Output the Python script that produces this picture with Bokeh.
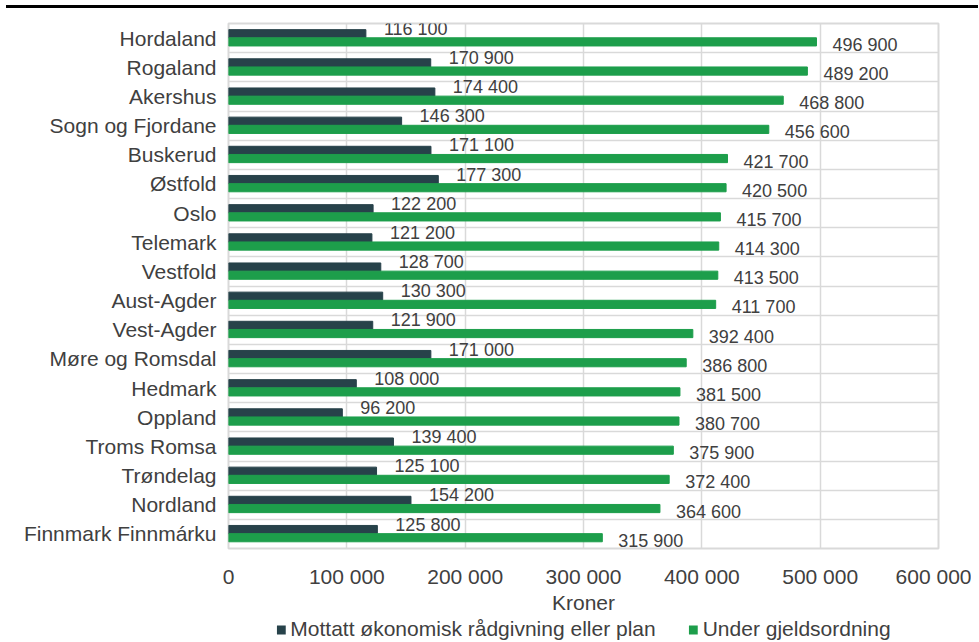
from bokeh.plotting import figure
from bokeh.models import (ColumnDataSource, FixedTicker, LabelSet, Legend, LegendItem,
                          Div, Range1d)
from bokeh.layouts import column
from bokeh.core.properties import value
from bokeh.embed import file_html
from bokeh.resources import INLINE

# ---------------- data ----------------
categories = ["Hordaland", "Rogaland", "Akershus", "Sogn og Fjordane", "Buskerud",
              "Østfold", "Oslo", "Telemark", "Vestfold", "Aust-Agder", "Vest-Agder",
              "Møre og Romsdal", "Hedmark", "Oppland", "Troms Romsa", "Trøndelag",
              "Nordland", "Finnmark Finnmárku"]
mottatt = [116100, 170900, 174400, 146300, 171100, 177300, 122200, 121200, 128700,
           130300, 121900, 171000, 108000, 96200, 139400, 125100, 154200, 125800]
under = [496900, 489200, 468800, 456600, 421700, 420500, 415700, 414300, 413500,
         411700, 392400, 386800, 381500, 380700, 375900, 372400, 364600, 315900]
series_names = ["Mottatt økonomisk rådgivning eller plan", "Under gjeldsordning"]
x_ticks = [0, 100000, 200000, 300000, 400000, 500000, 600000]
x_tick_labels = ["0", "100 000", "200 000", "300 000", "400 000", "500 000", "600 000"]
x_title = "Kroner"

# ---------------- style ----------------
FONT = "Liberation Sans"
TXT = "#404040"
GRID = "#d9d9d9"
DARK = "#27424a"
GREEN = "#1d9e4b"
W = 971


def fmt(v):
    return f"{v:,}".replace(",", " ")


n = len(categories)
ypos = [n - 1 - i + 0.5 for i in range(n)]
src = ColumnDataSource(dict(
    cat=categories,
    y=ypos,
    y_dark=[y + 0.15 for y in ypos],
    y_green=[y - 0.13 for y in ypos],
    dark=mottatt,
    green=under,
    dark_lbl=[fmt(v) for v in mottatt],
    green_lbl=[fmt(v) for v in under],
))

p = figure(width=W, height=603, x_range=Range1d(x_ticks[0], x_ticks[-1]),
           y_range=Range1d(0, n), output_backend="svg", toolbar_location=None,
           min_border_left=228, min_border_right=33, min_border_top=10,
           min_border_bottom=61)

p.outline_line_color = GRID
p.outline_line_width = 2
p.background_fill_color = "white"
p.border_fill_color = "white"

r1 = p.hbar(y="y_dark", right="dark", left=0, height=0.28, color=DARK, source=src)
r2 = p.hbar(y="y_green", right="green", left=0, height=0.28, color=GREEN, source=src)

lbl1 = LabelSet(x="dark", y="y_dark", text="dark_lbl", source=src, x_offset=18, y_offset=5,
                text_baseline="middle", text_font=value(FONT), text_font_size="18px",
                text_color=TXT)
lbl2 = LabelSet(x="green", y="y_green", text="green_lbl", source=src, x_offset=16, y_offset=-3,
                text_baseline="middle", text_font=value(FONT), text_font_size="18px",
                text_color=TXT)
p.add_layout(lbl1)
p.add_layout(lbl2)

# axes
p.xaxis.ticker = FixedTicker(ticks=x_ticks)
p.xaxis.major_label_overrides = dict(zip(x_ticks, x_tick_labels))
p.xaxis.axis_label = x_title
p.yaxis.ticker = FixedTicker(ticks=ypos)
p.yaxis.major_label_overrides = dict(zip(ypos, categories))
for ax in (p.xaxis, p.yaxis):
    ax.axis_line_color = None
    ax.major_tick_line_color = None
    ax.minor_tick_line_color = None
    ax.major_label_text_font = FONT
    ax.major_label_text_font_size = "21px"
    ax.major_label_text_color = TXT
p.xaxis.major_label_standoff = 10
p.yaxis.major_label_standoff = 6
p.xaxis.axis_label_text_font = FONT
p.xaxis.axis_label_text_font_size = "21px"
p.xaxis.axis_label_text_font_style = "normal"
p.xaxis.axis_label_text_color = TXT
p.xaxis.axis_label_standoff = 0

# grids
p.xgrid.grid_line_color = GRID
p.xgrid.grid_line_width = 1.5
p.ygrid.ticker = FixedTicker(ticks=list(range(n + 1)))
p.ygrid.grid_line_color = GRID
p.ygrid.grid_line_width = 1.5

# ---------------- legend (own strip below the chart) ----------------
# hidden copies of the bar glyphs: only their legend entries are drawn
lg = figure(width=W, height=26, output_backend="svg", toolbar_location=None,
            x_range=Range1d(x_ticks[0], x_ticks[-1]), y_range=Range1d(0, n),
            min_border=0, min_border_left=228, min_border_right=33)
lg.axis.visible = False
lg.grid.visible = False
lg.outline_line_color = None
lg.background_fill_color = "white"
lg.border_fill_color = "white"
g1 = lg.hbar(y="y_dark", right="dark", left=0, height=0.28, fill_color=DARK,
             line_color=None, source=src, visible=False)
g2 = lg.hbar(y="y_green", right="green", left=0, height=0.28, fill_color=GREEN,
             line_color=None, source=src, visible=False)
legend = Legend(items=[LegendItem(label=series_names[0], renderers=[g1]),
                       LegendItem(label=series_names[1], renderers=[g2])],
                orientation="horizontal", location="center",
                border_line_color=None, background_fill_alpha=0, padding=0, margin=0,
                glyph_width=11, glyph_height=11, label_standoff=4, spacing=32,
                label_text_font=FONT, label_text_font_size="21px",
                label_text_color=TXT, label_height=18, inactive_fill_alpha=0)
lg.add_layout(legend)

top_rule = Div(width=972, height=3, margin=(5, 0, 5, 6),
               styles={"background-color": "#000000"})
layout = column(top_rule, p, lg, spacing=0)

open("out.html", "w").write(file_html(layout, INLINE))
